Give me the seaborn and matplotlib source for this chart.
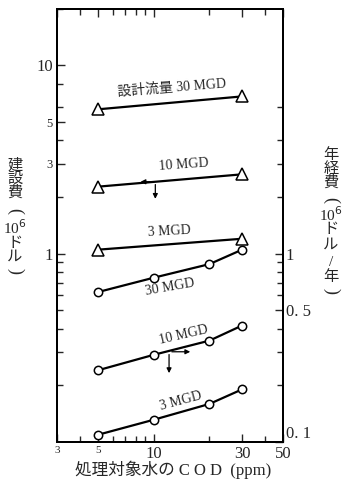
import matplotlib
matplotlib.use("Agg")
import matplotlib.pyplot as plt
import seaborn as sns
from matplotlib.ticker import FixedLocator, NullFormatter

# データ
cod_cons = [5, 30]
cons_30 = [5.85, 6.85]
cons_10 = [2.27, 2.64]
cons_3 = [1.05, 1.20]

cod_op = [5, 10, 20, 30]
op_30 = [0.625, 0.745, 0.88, 1.05]
op_10 = [0.24, 0.29, 0.345, 0.415]
op_3 = [0.109, 0.131, 0.159, 0.19]

x_ticks = [3, 5, 10, 30, 50]
x_minor = [4, 6, 7, 8, 9, 20, 40]
left_labels = [1, 3, 5, 10]
left_minor = [0.2, 0.3, 0.4, 0.5, 0.6, 0.7, 0.8, 0.9, 2, 4, 6, 8, 20]
right_labels = [0.1, 0.5, 1]

FONT = ["Liberation Serif", "Noto Sans CJK JP"]

sns.set_style("ticks")
plt.rcParams["font.family"] = FONT

fig = plt.figure(figsize=(3.47, 4.92), dpi=100)
ax = fig.add_axes([0.164, 0.102, 0.652, 0.880])
ax2 = ax.twinx()

for ys in (cons_30, cons_10, cons_3):
    sns.lineplot(x=cod_cons, y=ys, ax=ax, color="black", lw=1.6,
                 marker="^", markersize=8, markerfacecolor="white",
                 markeredgecolor="black", markeredgewidth=1.1)
for ys in (op_30, op_10, op_3):
    sns.lineplot(x=cod_op, y=ys, ax=ax2, color="black", lw=1.6,
                 marker="o", markersize=6, markerfacecolor="white",
                 markeredgecolor="black", markeredgewidth=1.1)

for a in (ax, ax2):
    a.set_xscale("log")
    a.set_yscale("log")
    a.set_xlim(3, 50)
    a.set_ylim(0.1, 20)

ax.xaxis.set_major_locator(FixedLocator(x_ticks))
ax.xaxis.set_minor_locator(FixedLocator(x_minor))
ax.set_xticklabels(["3", "5", "10", "30", "50"])
ax.xaxis.set_minor_formatter(NullFormatter())
for lbl, s in zip(ax.get_xticklabels(), [8, 8, 12, 12, 12]):
    lbl.set_fontsize(s)

ax.yaxis.set_major_locator(FixedLocator(left_labels))
ax.yaxis.set_minor_locator(FixedLocator(left_minor))
ax.set_yticklabels(["1", "3", "5", "10"])
ax.yaxis.set_minor_formatter(NullFormatter())
for lbl, s in zip(ax.get_yticklabels(), [12, 9, 9, 12]):
    lbl.set_fontsize(s)

ax2.yaxis.set_major_locator(FixedLocator(right_labels))
ax2.yaxis.set_minor_locator(FixedLocator([0.2, 0.3, 0.4, 0.6, 0.7, 0.8, 0.9, 2, 3, 4, 6]))
ax2.set_yticklabels(["0. 1", "0. 5", "1"])
ax2.yaxis.set_minor_formatter(NullFormatter())
for lbl in ax2.get_yticklabels():
    lbl.set_fontsize(12)
ax2.get_yticklabels()[0].set_va("bottom")

ax.tick_params(axis="both", which="both", direction="in", top=True, right=False,
               width=1.0, pad=3)
ax.tick_params(which="major", length=6)
ax.tick_params(which="minor", length=4)
ax2.tick_params(axis="y", which="both", direction="in", width=1.0, pad=2)
ax2.tick_params(which="major", length=6)
ax2.tick_params(which="minor", length=4)
for a in (ax, ax2):
    for sp in a.spines.values():
        sp.set_linewidth(1.4)
        sp.set_color("black")

# 曲線ラベル
ax.text(12.5, 7.6, "設計流量 30 MGD", fontsize=10, rotation=4.5, ha="center", va="center")
ax.text(14.5, 2.95, "10 MGD", fontsize=10, rotation=4, ha="center", va="center")
ax.text(12.2, 1.31, "3 MGD", fontsize=10, rotation=3, ha="center", va="center")
ax2.text(12.3, 0.66, "30 MGD", fontsize=10, rotation=10, ha="center", va="center")
ax2.text(14.4, 0.37, "10 MGD", fontsize=10, rotation=13, ha="center", va="center")
ax2.text(14.0, 0.165, "3 MGD", fontsize=10, rotation=15, ha="center", va="center")

# 軸を示す矢印
arrow = dict(arrowstyle="-|>", color="black", lw=0.9, mutation_scale=7)
ax.annotate("", xy=(8.2, 2.41), xytext=(10.2, 2.41), arrowprops=arrow)
ax.annotate("", xy=(10.2, 1.89), xytext=(10.2, 2.41), arrowprops=arrow)
ax2.annotate("", xy=(16.3, 0.301), xytext=(12.1, 0.301), arrowprops=arrow)
ax2.annotate("", xy=(12.1, 0.224), xytext=(12.1, 0.301), arrowprops=arrow)

# 縦書きの軸ラベル（括弧は回転して縦書き用に）
H = 492.0
rot = {"(": -90, ")": -90}
left_chars = [("建", 165), ("設", 179), ("費", 193), ("(", 211), ("10$^6$", 228),
              ("ド", 243), ("ル", 257), (")", 271)]
for ch, y in left_chars:
    fig.text(15 / 347, 1 - y / H, ch, fontsize=13 if ch in "()" else 11,
             ha="center", va="center", rotation=rot.get(ch, 0))
right_chars = [("年", 155), ("経", 169), ("費", 183), ("(", 200), ("10$^6$", 215),
               ("ド", 230), ("ル", 245), ("/", 262), ("年", 277), (")", 291)]
for ch, y in right_chars:
    fig.text(331 / 347, 1 - y / H, ch, fontsize=13 if ch in "()" else 11,
             ha="center", va="center", rotation=rot.get(ch, 0))

fig.text(0.5, 1 - 470 / H, "処理対象水の C O D  (ppm)", fontsize=12,
         ha="center", va="center")

fig.savefig("out.png", dpi=100)
